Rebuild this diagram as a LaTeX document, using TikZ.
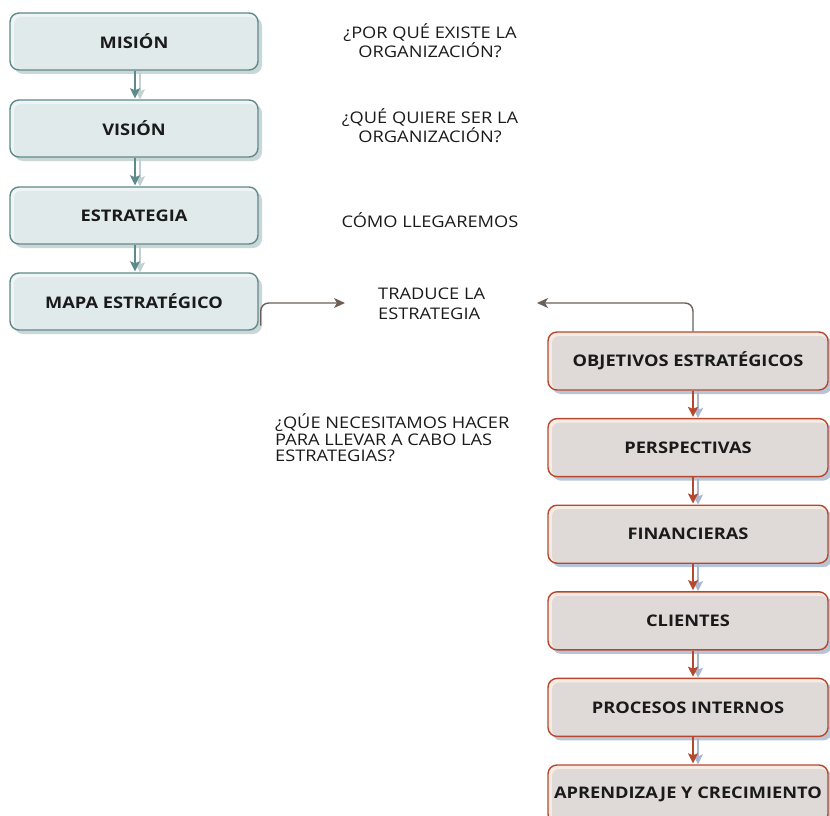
\documentclass[tikz,border=0pt]{standalone}
\usepackage{fontspec}
\setmainfont{Open Sans}
\newfontfamily\widesans[FakeStretch=1.14]{Open Sans}
\usetikzlibrary{arrows.meta,shadows}

\definecolor{tealline}{HTML}{5E8A8C}
\definecolor{tealfill}{HTML}{E1EAEB}
\definecolor{tealhi}{HTML}{EFF4F4}
\definecolor{tealshadow}{HTML}{CBD6D7}
\definecolor{tealghost}{HTML}{C3CFD0}
\definecolor{redline}{HTML}{B5482E}
\definecolor{redfill}{HTML}{DFDAD8}
\definecolor{redhi}{HTML}{F7ECE3}
\definecolor{blueshadow}{HTML}{B9C4D6}
\definecolor{blueghost}{HTML}{A9B8D0}
\definecolor{connline}{HTML}{6B5F58}
\definecolor{inkc}{HTML}{1A1A1A}

\tikzset{
  boxbase/.style={rounded corners=9pt, line width=1.4pt, inner sep=0pt,
    font=\widesans\bfseries\fontsize{16}{18}\selectfont, text=inkc},
  leftbox/.style={boxbase, draw=tealline, fill=tealhi,
    minimum width=248pt, minimum height=57pt,
    drop shadow={shadow xshift=4pt, shadow yshift=-4pt, fill=tealshadow, opacity=1},
    path picture={\fill[tealfill, rounded corners=7pt]
      ([xshift=4pt,yshift=-4pt]path picture bounding box.north west)
      rectangle (path picture bounding box.south east);}},
  rightbox/.style={boxbase, draw=redline, fill=redhi,
    minimum width=280pt, minimum height=58pt,
    drop shadow={shadow xshift=4pt, shadow yshift=-4pt, fill=blueshadow, opacity=1},
    path picture={\fill[redfill, rounded corners=7pt]
      ([xshift=4pt,yshift=-4pt]path picture bounding box.north west)
      rectangle (path picture bounding box.south east);}},
  note/.style={inner sep=0pt, font=\widesans\fontsize{16}{16.5}\selectfont, text=inkc},
  widenote/.style={note, font=\widesans\fontsize{16}{20.5}\selectfont},
  tealarrow/.style={draw=tealline, line width=1.8pt,
    -{Stealth[length=10pt,width=10pt,inset=2pt]}},
  tealghostarrow/.style={draw=tealghost, line width=1.8pt,
    -{Stealth[length=10pt,width=10pt,inset=2pt]}},
  redarrow/.style={draw=redline, line width=1.8pt,
    -{Stealth[length=10pt,width=10pt,inset=2pt]}},
  redghostarrow/.style={draw=blueghost, line width=1.8pt,
    -{Stealth[length=10pt,width=10pt,inset=2pt]}},
  conn/.style={draw=connline, line width=1.4pt, rounded corners=8pt,
    -{Stealth[length=11pt,width=10pt,inset=3pt]}},
}

\begin{document}
\begin{tikzpicture}[x=1pt,y=-1pt]
\useasboundingbox (0,0) rectangle (830,816);

% left column: mission to strategy map
\node[leftbox] (mision) at (134,41.5) {MISIÓN};
\node[leftbox] (vision) at (134,128.5) {VISIÓN};
\node[leftbox] (estr)   at (134,215.5) {ESTRATEGIA};
\node[leftbox] (mapa)   at (134,301.5) {MAPA ESTRATÉGICO};

% right column: objectives and perspectives
\node[rightbox] (obj)  at (688,361)   {OBJETIVOS ESTRATÉGICOS};
\node[rightbox] (pers) at (688,447.6) {PERSPECTIVAS};
\node[rightbox] (fin)  at (688,534.2) {FINANCIERAS};
\node[rightbox] (cli)  at (688,620.8) {CLIENTES};
\node[rightbox] (proc) at (688,707.4) {PROCESOS INTERNOS};
\node[rightbox] (apr)  at (688,794)   {APRENDIZAJE Y CRECIMIENTO};

% side notes
\node[note, align=center] (q1) at (430,41) {¿POR QUÉ EXISTE LA\\ORGANIZACIÓN?};
\node[note, align=center] (q2) at (430,126) {¿QUÉ QUIERE SER LA\\ORGANIZACIÓN?};
\node[note] (q3) at (430,220) {CÓMO LLEGAREMOS};
\node[widenote, align=left, anchor=west] (trad) at (378,304) {TRADUCE LA\\ESTRATEGIA};
\node[note, align=left, anchor=west] (q4) at (275,438)
  {¿QÚE NECESITAMOS HACER\\PARA LLEVAR A CABO LAS\\ESTRATEGIAS?};

% arrow columns
\coordinate (lx) at (135,0);
\coordinate (lg) at (140,0);
\coordinate (rx) at (693,0);
\coordinate (rg) at (698,0);

\foreach \a/\b in {mision/vision, vision/estr, estr/mapa}{
  \draw[tealghostarrow] (\a.south -| lg) -- (\b.north -| lg);
  \draw[tealarrow] (\a.south -| lx) -- ([yshift=1pt]\b.north -| lx);
}
\foreach \a/\b in {obj/pers, pers/fin, fin/cli, cli/proc, proc/apr}{
  \draw[redghostarrow] (\a.south -| rg) -- (\b.north -| rg);
  \draw[redarrow] (\a.south -| rx) -- ([yshift=1pt]\b.north -| rx);
}

% connectors to the central label
\coordinate (tl) at (345,303);
\coordinate (tr) at (537,303);
\draw[conn] ([shift={(2pt,5pt)}]mapa.south east) |- (tl);
\draw[conn] (obj.north -| rx) |- (tr);
\end{tikzpicture}
\end{document}
